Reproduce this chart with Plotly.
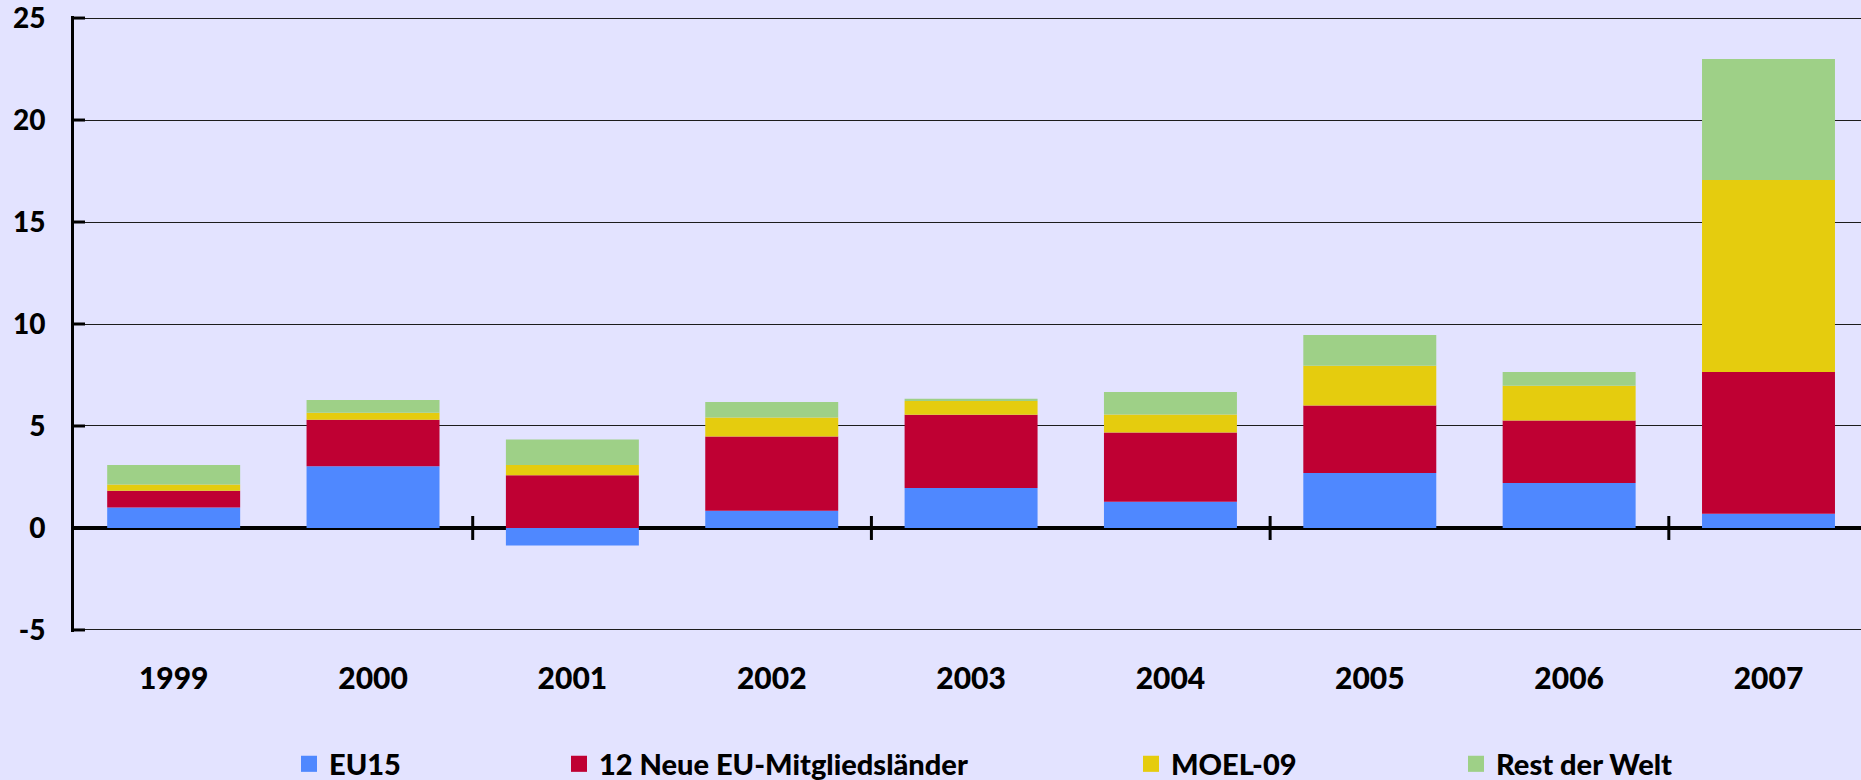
import plotly.graph_objects as go

# ---- data ----
years = ["1999", "2000", "2001", "2002", "2003", "2004", "2005", "2006", "2007"]
eu15 = [1.00, 3.03, -0.86, 0.84, 1.96, 1.29, 2.70, 2.21, 0.70]
neue12 = [0.82, 2.28, 2.59, 3.64, 3.59, 3.39, 3.30, 3.06, 6.95]
moel09 = [0.31, 0.34, 0.50, 0.94, 0.68, 0.88, 1.95, 1.70, 9.41]
rest = [0.96, 0.63, 1.25, 0.76, 0.10, 1.11, 1.51, 0.68, 5.93]
series_names = ["EU15", "12 Neue EU-Mitgliedsländer", "MOEL-09", "Rest der Welt"]
y_ticks = [-5, 0, 5, 10, 15, 20, 25]
x_cross_ticks = [1.5, 3.5, 5.5, 7.5]

# ---- style ----
colors = ["#4F88FF", "#BF0033", "#E5CC0E", "#9ED087"]
bg = "#E3E3FF"
FONT = "Lato"
WEIGHT = 900
W, H = 1861, 780
ML, MR, MT, MB = 74, 0, 16, 148
legend_square_px = [309, 579, 1151, 1476]  # centres of legend squares (px)

fig = go.Figure()
values = [eu15, neue12, moel09, rest]
for i, (name, vals) in enumerate(zip(series_names, values)):
    fig.add_trace(go.Bar(
        x=years, y=vals, name=name, marker=dict(color=colors[i], line=dict(width=0)),
        width=0.667, showlegend=False,
    ))

plot_w = W - ML - MR
plot_h = H - MT - MB
for i, name in enumerate(series_names):
    lname = "legend" if i == 0 else f"legend{i+1}"
    fig.add_trace(go.Scatter(
        x=[None], y=[None], mode="markers", name=name,
        marker=dict(symbol="square", size=19, color=colors[i]),
        legend=lname, showlegend=True, hoverinfo="skip",
    ))

legend_common = dict(
    orientation="h", bgcolor="rgba(0,0,0,0)", borderwidth=0,
    font=dict(family=FONT, size=29, color="black", weight=WEIGHT),
    xanchor="left", yanchor="middle", itemsizing="trace",
)
legend_y = (H - MB - 764) / plot_h
legends = {}
for i in range(4):
    key = "legend" if i == 0 else f"legend{i+1}"
    legends[key] = dict(legend_common, x=(legend_square_px[i] - 20 - ML) / plot_w, y=legend_y)

shapes = []
for xp in x_cross_ticks:
    shapes.append(dict(type="line", xref="x", yref="y", x0=xp, x1=xp,
                       ysizemode="pixel", yanchor=0, y0=-12, y1=12,
                       line=dict(color="black", width=3)))
for yv in y_ticks:
    shapes.append(dict(type="line", xref="x", yref="y", y0=yv, y1=yv,
                       xsizemode="pixel", xanchor=-0.5, x0=-11, x1=11,
                       line=dict(color="black", width=3)))

fig.update_layout(
    width=W, height=H,
    margin=dict(l=ML, r=MR, t=MT, b=MB, pad=0, autoexpand=False),
    paper_bgcolor=bg, plot_bgcolor=bg,
    barmode="relative", bargap=0.333,
    font=dict(family=FONT, size=28, color="black", weight=WEIGHT),
    shapes=shapes,
    **legends,
)
fig.update_xaxes(
    type="category", range=[-0.5, 8.464], showgrid=False, zeroline=False,
    showline=False, ticks="", ticklabelstandoff=26, automargin=False,
    tickfont=dict(family=FONT, size=30, color="black", weight=WEIGHT),
)
fig.update_yaxes(
    range=[-5.1, 25.1], tickvals=y_ticks, ticktext=[str(v) for v in y_ticks],
    showgrid=True, gridcolor="#1c1c1c", gridwidth=1.3,
    zeroline=True, zerolinecolor="black", zerolinewidth=4,
    showline=True, linecolor="black", linewidth=3,
    ticks="", ticklabelstandoff=20, automargin=False, ticklabeloverflow="allow",
    tickfont=dict(family=FONT, size=28, color="black", weight=WEIGHT),
)

fig.write_html(
    "out.html",
    config={"displayModeBar": False},
    post_script="document.body.style.margin='0';document.body.style.overflow='hidden';",
)
